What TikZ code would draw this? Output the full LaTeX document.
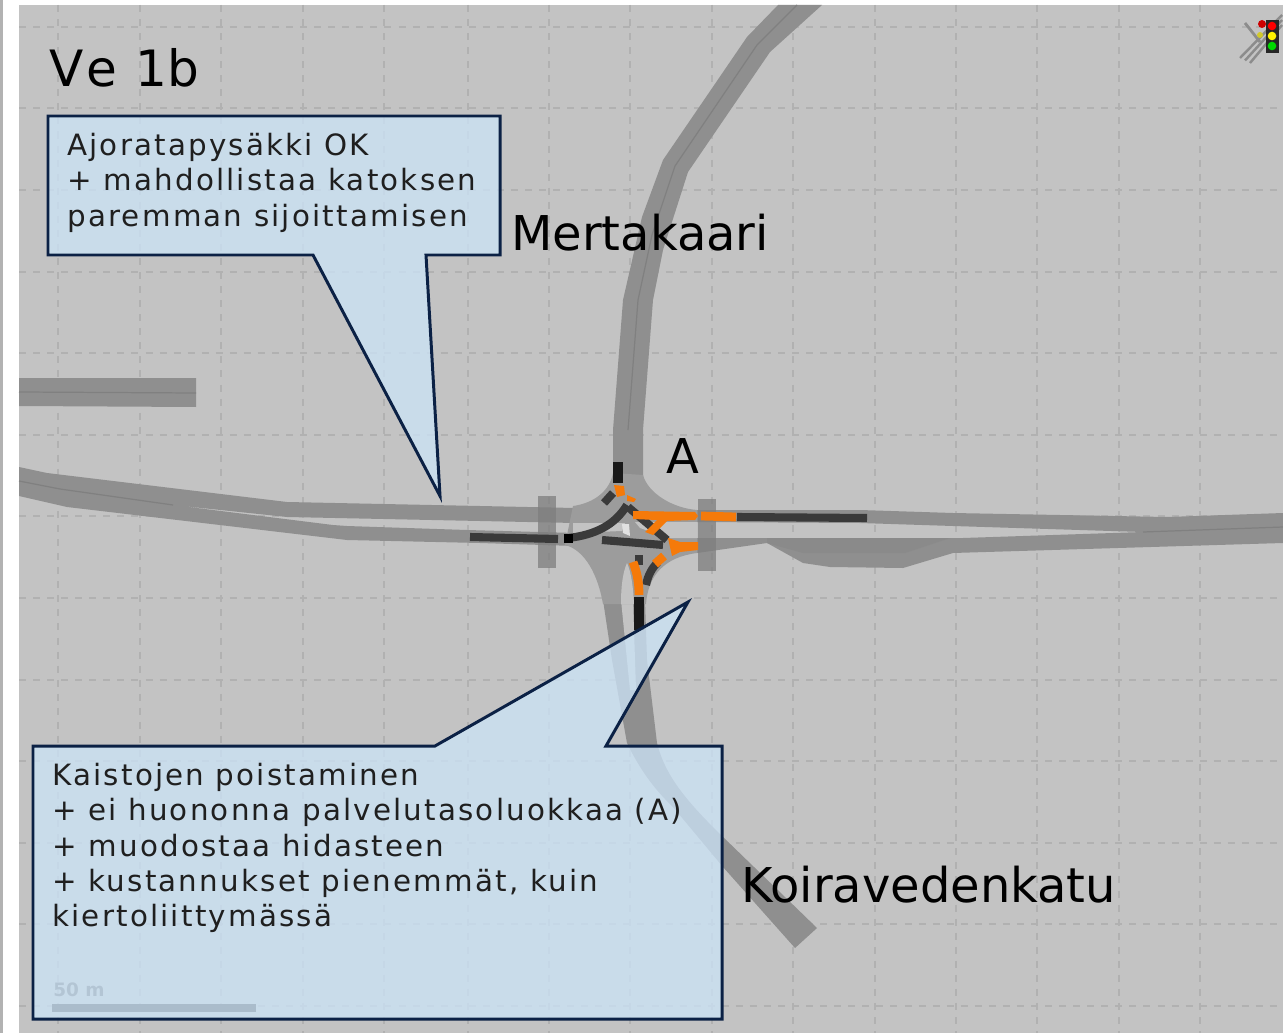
\documentclass[tikz,border=0pt]{standalone}
\usepackage{fontspec}
\setmainfont{DejaVu Sans}
\newfontfamily\boxfont[LetterSpace=7.5]{DejaVu Sans}
\definecolor{mapbg}{HTML}{C3C3C3}
\definecolor{roadgray}{HTML}{8F8F8F}
\definecolor{roadmid}{HTML}{808080}
\definecolor{flaregray}{HTML}{9C9C9C}
\definecolor{bargray}{HTML}{7E7E7E}
\definecolor{linkdark}{HTML}{3A3A3A}
\definecolor{linkorange}{HTML}{F57A0A}
\definecolor{boxfill}{HTML}{CCE4F7}
\definecolor{boxline}{HTML}{0B2145}
\tikzset{
  gridline/.style={draw=black!9!mapbg, line width=0.9pt, dash pattern=on 4pt off 4pt},
  roadfill/.style={fill=roadgray},
  midline/.style={draw=roadmid, line width=.7pt},
  crossbar/.style={fill=bargray, fill opacity=.75},
  darklink/.style={draw=linkdark, line width=4.6pt},
  blacklink/.style={draw=black!90, line width=5.4pt},
  orangelink/.style={draw=linkorange, line width=5pt},
  callout/.style={draw=boxline, line width=1.7pt, fill=boxfill, fill opacity=.76, draw opacity=1, line join=miter},
  boxtext/.style={anchor=north west, align=left, inner sep=0pt, font=\boxfont\fontsize{16.7}{20.1}\selectfont, text=black!88},
  bigtext/.style={anchor=base west, inner sep=0pt, font=\fontsize{27.3}{30}\selectfont, text=black}
}
\begin{document}
\begin{tikzpicture}[x=0.02cm, y=-0.02cm]
  \useasboundingbox (0, 0) rectangle (1283, 1033);
  % Page and map
  \fill[white] (0, 0) rectangle (1283, 1033);
  \fill[black!30] (0, 0) rectangle (3, 1033);
  \fill[mapbg] (19, 5) rectangle (1283, 1033);
  % Grid
  \foreach \gx in {58, 140, 221, 303, 384, 468, 549, 630, 712, 793, 875, 956, 1037, 1119, 1200}
    \draw[gridline] (\gx, 5) -- (\gx, 1033);
  \foreach \gy in {27, 108, 190, 272, 353, 435, 516, 598, 680, 761, 843, 924, 1006}
    \draw[gridline] (19, \gy) -- (1283, \gy);
  % Roads
  \fill[roadfill] (19, 378) -- (196, 378) -- (196, 407) -- (19, 406) -- cycle;
  \draw[midline] (19, 392) -- (196, 393);
  % West road
  \fill[roadfill] (19, 467) -- (47, 473) -- (287, 502) -- (480, 506) -- (575, 508) -- (575, 523) -- (480, 521) -- (287, 517) -- (173, 505) -- (333, 525) -- (347, 526) -- (467, 530) -- (575, 533) -- (575, 546) -- (480, 543) -- (347, 540) -- (67, 507) -- (19, 496) -- cycle;
  \draw[midline] (19, 481) -- (60, 489) -- (173, 505);
  % East road
  \fill[roadfill] (697, 510) -- (860, 510) -- (953, 513) -- (1167, 517) -- (1283, 513) -- (1283, 543) -- (953, 553) -- (903, 568) -- (830, 567) -- (803, 563) -- (767, 543) -- (697, 553) -- (697, 538) -- (963, 538) -- (1143, 532) -- (953, 526) -- (860, 523) -- (697, 522) -- cycle;
  \draw[midline] (1143, 532) -- (1283, 527);
  \fill[roadmid!85!mapbg] (767, 538) -- (860, 538) -- (950, 538) -- (905, 553) -- (803, 553) -- (767, 543) -- cycle;
  % North road
  \fill[roadfill] (778, 5) -- (747, 37) -- (663, 160) -- (642, 217) -- (623, 300) -- (613, 430) -- (613, 480) -- (643, 480) -- (643, 430) -- (653, 300) -- (663, 250) -- (688, 172) -- (770, 52) -- (822, 5) -- cycle;
  \draw[midline] (797, 5) -- (757, 45) -- (675, 166) -- (652, 235) -- (638, 300) -- (628, 430);
  % South road
  \fill[roadfill] (603, 600) -- (612, 660) -- (627, 743) .. controls (640, 770) and (655, 790) .. (673, 807) -- (723, 867) -- (795, 948) -- (817, 928) -- (723, 837) .. controls (685, 800) and (665, 775) .. (657, 743) -- (647, 660) -- (645, 600) -- cycle;
  \fill[mapbg] (621, 600) -- (633, 600) -- (636, 690) -- (630, 690) -- cycle;
  % Junction
  \fill[flaregray] (573, 506) .. controls (595, 503) and (610, 490) .. (613, 473) -- (643, 475) .. controls (648, 493) and (672, 508) .. (697, 510) -- (697, 553) .. controls (665, 557) and (648, 575) .. (646, 604) -- (603, 604) .. controls (598, 575) and (585, 550) .. (565, 545) -- cycle;
  \fill[mapbg] (621, 604) .. controls (621, 585) and (623, 572) .. (627, 563) .. controls (631, 572) and (633, 585) .. (634, 604) -- cycle;
  \fill[mapbg] (573, 523) -- (625, 523) -- (622, 531) -- (573, 533) -- cycle;
  \fill[mapbg] (635, 522) -- (697, 522) -- (697, 538) -- (668, 538) -- (640, 528) -- cycle;
  \fill[mapbg!50!white] (622, 524) -- (629, 524) -- (630, 536) -- (623, 533) -- cycle;
  % Crossings
  \fill[crossbar] (538, 496) rectangle (556, 568);
  \fill[crossbar] (698, 499) rectangle (716, 571);
  % Links
  \draw[blacklink] (618, 462) -- (618, 483);
  \draw[darklink] (470, 537) -- (558, 539);
  \draw[darklink] (568, 538) .. controls (595, 535) and (615, 525) .. (627, 505);
  \fill[black] (564, 534) rectangle (573, 543);
  \draw[darklink] (602, 540) -- (663, 545);
  \draw[darklink] (628, 507) -- (667, 540);
  \draw[darklink] (737, 517) -- (867, 518);
  \draw[darklink] (604, 503) -- (613, 493);
  \draw[darklink] (639, 555) -- (639, 565);
  \draw[darklink] (646, 585) .. controls (648, 575) and (652, 568) .. (658, 562);
  \draw[blacklink] (639, 597) -- (639, 630);
  \draw[orangelink] (633, 562) .. controls (638, 575) and (639, 585) .. (639, 595);
  \draw[orangelink] (655, 564) -- (664, 556);
  \draw[orangelink] (701, 516) -- (736, 517);
  \fill[linkorange] (614, 485) -- (624, 486) -- (625, 495) -- (617, 497) -- cycle;
  \fill[linkorange] (627, 495) -- (636, 499) -- (634, 502) -- (627, 501) -- cycle;
  \fill[linkorange] (633, 511) -- (695, 512) -- (698, 516) -- (695, 520) -- (667, 521) -- (653, 535) -- (645, 532) -- (657, 520) -- (633, 519) -- cycle;
  \fill[linkorange] (668, 538) -- (680, 542) -- (698, 542) -- (698, 550) -- (680, 552) -- (672, 556) -- cycle;
  % Signal icon
  \foreach \ix in {0, 5, 10}
    \draw[black!45, line width=1.4pt] (1240 + \ix, 58 + \ix / 2) -- (1282, 15 + \ix);
  \draw[black!45, line width=1.6pt] (1245, 23) -- (1260, 42);
  \fill[red!80!black] (1262, 24) circle (4);
  \fill[yellow!80!black] (1260, 35) circle (3);
  \fill[black!85] (1266, 20) rectangle (1279, 53);
  \fill[red] (1272, 26) circle (4.3);
  \fill[yellow] (1272, 36) circle (4.3);
  \fill[green!85!black] (1272, 46) circle (4.3);
  % Scale
  \node[anchor=base west, inner sep=0pt, font=\bfseries\fontsize{10.5}{12}\selectfont, text=black!60] (scalelabel) at (53, 996) {50 m};
  \fill[black!75] (52, 1004) rectangle (256, 1012);
  % Callouts
  \draw[callout] (48, 116) -- (500, 116) -- (500, 255) -- (426, 255) -- (440, 496) -- (313, 255) -- (48, 255) -- cycle;
  \draw[callout] (33, 746) -- (435, 746) -- (688, 602) -- (606, 746) -- (722, 746) -- (722, 1019) -- (33, 1019) -- cycle;
  % Labels
  \node[boxtext] (stoptext) at (67, 133) {Ajoratapysäkki OK\\+ mahdollistaa katoksen\\paremman sijoittamisen};
  \node[boxtext] (lanetext) at (52, 763) {Kaistojen poistaminen\\+ ei huononna palvelutasoluokkaa (A)\\+ muodostaa hidasteen\\+ kustannukset pienemmät, kuin\\kiertoliittymässä};
  \node[bigtext, font=\fontsize{28.5}{30}\selectfont] (title) at (49, 87) {V\kern1.5pt e\hspace{1.5pt} 1b};
  \node[bigtext] (mertakaari) at (511, 251) {Mertakaari};
  \node[bigtext] (koiravesi) at (741, 902) {Koiravedenkatu};
  \node[bigtext] (junction) at (666, 473) {A};
\end{tikzpicture}
\end{document}
